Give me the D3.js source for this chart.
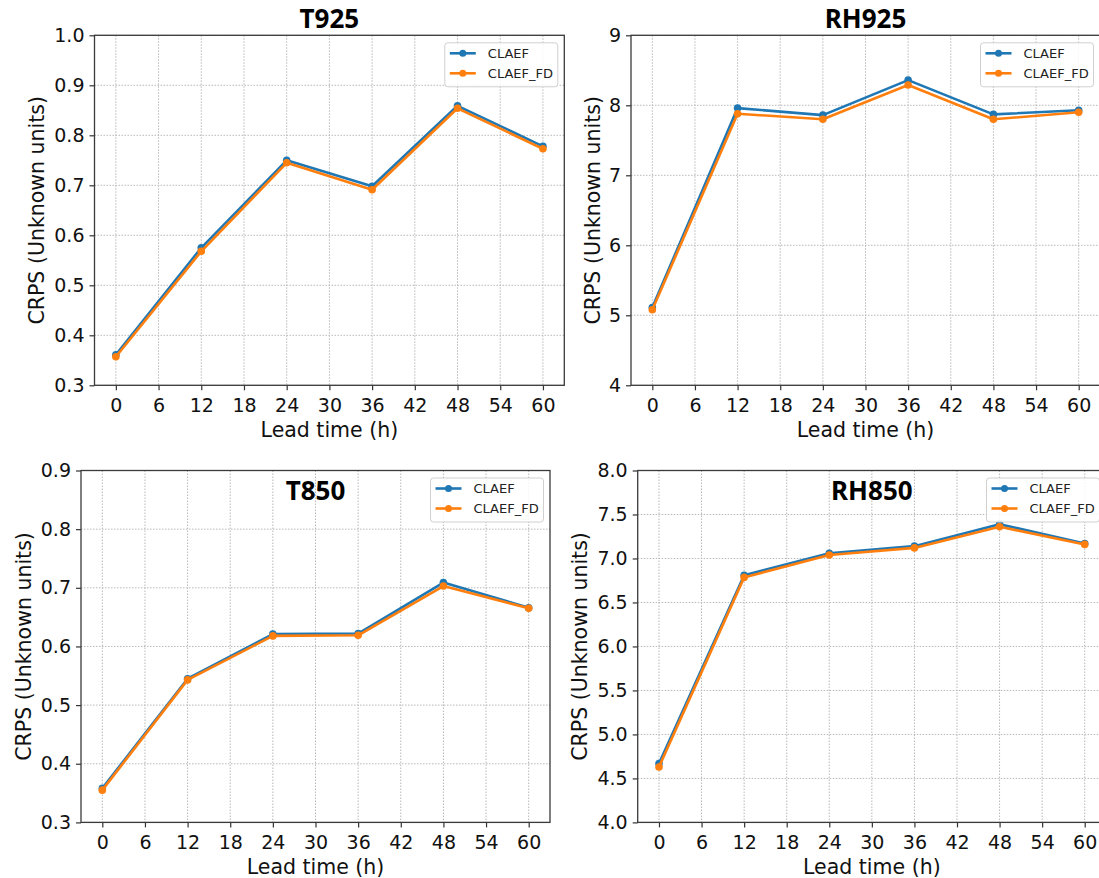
<!DOCTYPE html>
<html>
<head>
<meta charset="utf-8">
<script src="https://cdn.jsdelivr.net/npm/d3@7"></script>
<style>
  body { margin: 0; background: #fff; }
  svg { display: block; }
</style>
</head>
<body>
<svg id="chart"></svg>
<script>
// CRPS vs lead time, four panels

const leadTimes = [0, 12, 24, 36, 48, 60];
const xTicks = [0, 6, 12, 18, 24, 30, 36, 42, 48, 54, 60];
const seriesNames = ["CLAEF", "CLAEF_FD"];
const seriesColors = ["#1f77b4", "#ff7f0e"];

const t925Claef = [0.361, 0.575, 0.750, 0.698, 0.859, 0.778];
const t925ClaefFd = [0.357, 0.568, 0.745, 0.691, 0.854, 0.773];
const t925Ticks = [0.3, 0.4, 0.5, 0.6, 0.7, 0.8, 0.9, 1.0];

const rh925Claef = [5.11, 7.96, 7.86, 8.36, 7.87, 7.93];
const rh925ClaefFd = [5.08, 7.88, 7.80, 8.29, 7.80, 7.90];
const rh925Ticks = [4, 5, 6, 7, 8, 9];

const t850Claef = [0.358, 0.545, 0.621, 0.622, 0.709, 0.666];
const t850ClaefFd = [0.355, 0.543, 0.618, 0.619, 0.703, 0.665];
const t850Ticks = [0.3, 0.4, 0.5, 0.6, 0.7, 0.8, 0.9];

const rh850Claef = [4.67, 6.81, 7.06, 7.14, 7.39, 7.17];
const rh850ClaefFd = [4.63, 6.785, 7.04, 7.12, 7.36, 7.16];
const rh850Ticks = [4.0, 4.5, 5.0, 5.5, 6.0, 6.5, 7.0, 7.5, 8.0];

const width = 1099;
const height = 878;

const panels = [
    { title: "T925", series: [t925Claef, t925ClaefFd], ticks: t925Ticks, fmt: ".1f",
      left: 94.5, right: 564.3, top: 35.3, bottom: 385.3, titleInside: false, ylabelOff: 50.5 },
    { title: "RH925", series: [rh925Claef, rh925ClaefFd], ticks: rh925Ticks, fmt: "d",
      left: 631, right: 1100, top: 35.3, bottom: 385.3, titleInside: false, ylabelOff: 31.5 },
    { title: "T850", series: [t850Claef, t850ClaefFd], ticks: t850Ticks, fmt: ".1f",
      left: 81, right: 550, top: 470.5, bottom: 822.4, titleInside: true, ylabelOff: 50 },
    { title: "RH850", series: [rh850Claef, rh850ClaefFd], ticks: rh850Ticks, fmt: ".1f",
      left: 637.7, right: 1106, top: 470.5, bottom: 822.4, titleInside: true, ylabelOff: 51 }
];

const svg = d3.select("#chart")
    .attr("width", width)
    .attr("height", height);

svg.append("rect")
    .attr("width", width)
    .attr("height", height)
    .attr("fill", "#fff");

function drawPanel(p) {
    const w = p.right - p.left;
    const h = p.bottom - p.top;

    const g = svg.append("g")
        .attr("transform", "translate(" + p.left + "," + p.top + ")");

    const x = d3.scaleLinear().domain([-3, 63]).range([0, w]);
    const y = d3.scaleLinear()
        .domain([d3.min(p.ticks), d3.max(p.ticks)])
        .range([h, 0]);

    // dotted grid
    g.append("g").selectAll("line")
        .data(xTicks)
        .join("line")
        .attr("x1", d => x(d)).attr("x2", d => x(d))
        .attr("y1", 0).attr("y2", h)
        .attr("stroke", "#b8b8b8")
        .attr("stroke-width", 1)
        .attr("stroke-dasharray", "1.5,1.5");

    g.append("g").selectAll("line")
        .data(p.ticks)
        .join("line")
        .attr("x1", 0).attr("x2", w)
        .attr("y1", d => y(d)).attr("y2", d => y(d))
        .attr("stroke", "#b8b8b8")
        .attr("stroke-width", 1)
        .attr("stroke-dasharray", "1.5,1.5");

    // series
    const line = d3.line()
        .x((d, i) => x(leadTimes[i]))
        .y(d => y(d));

    p.series.forEach((vals, k) => {
        g.append("path")
            .datum(vals)
            .attr("d", line)
            .attr("fill", "none")
            .attr("stroke", seriesColors[k])
            .attr("stroke-width", 2.6)
            .attr("stroke-linejoin", "round");

        g.selectAll(".dot-" + k)
            .data(vals)
            .join("circle")
            .attr("class", "dot-" + k)
            .attr("cx", (d, i) => x(leadTimes[i]))
            .attr("cy", d => y(d))
            .attr("r", 3.8)
            .attr("fill", seriesColors[k]);
    });

    // axes
    const xAxis = d3.axisBottom(x)
        .tickValues(xTicks)
        .tickSize(5)
        .tickPadding(8)
        .tickFormat(d3.format("d"));

    const yAxis = d3.axisLeft(y)
        .tickValues(p.ticks)
        .tickSize(5)
        .tickPadding(5)
        .tickFormat(d3.format(p.fmt));

    const gx = g.append("g")
        .attr("transform", "translate(0," + h + ")")
        .call(xAxis);
    const gy = g.append("g").call(yAxis);

    [gx, gy].forEach(a => {
        a.select(".domain").remove();
        a.selectAll(".tick line").attr("stroke", "#333").attr("stroke-width", 1.2);
        a.selectAll(".tick text")
            .attr("fill", "#111")
            .style("font-family", "'DejaVu Sans', sans-serif")
            .style("font-size", "19px");
    });

    // frame
    g.append("rect")
        .attr("width", w)
        .attr("height", h)
        .attr("fill", "none")
        .attr("stroke", "#3a3a3a")
        .attr("stroke-width", 1.3);

    // labels
    g.append("text")
        .attr("x", w / 2)
        .attr("y", h + 51.7)
        .attr("text-anchor", "middle")
        .style("font-family", "'DejaVu Sans', sans-serif")
        .style("font-size", "20.5px")
        .attr("fill", "#111")
        .text("Lead time (h)");

    g.append("text")
        .attr("transform", "translate(" + (-p.ylabelOff) + "," + (h / 2) + ") rotate(-90)")
        .attr("text-anchor", "middle")
        .style("font-family", "'DejaVu Sans', sans-serif")
        .style("font-size", "20.5px")
        .attr("fill", "#111")
        .text("CRPS (Unknown units)");

    g.append("text")
        .attr("x", w / 2)
        .attr("y", p.titleInside ? 29.8 : -7.3)
        .attr("text-anchor", "middle")
        .style("font-family", "'Noto Sans', sans-serif")
        .style("font-weight", "bold")
        .style("font-size", "26px")
        .attr("fill", "#000")
        .text(p.title);

    // legend
    const lw = 113, lh = 44;
    const legend = g.append("g")
        .attr("transform", "translate(" + (w - 6.5 - lw) + ",7.5)");

    legend.append("rect")
        .attr("width", lw)
        .attr("height", lh)
        .attr("rx", 3)
        .attr("fill", "#fff")
        .attr("fill-opacity", 0.85)
        .attr("stroke", "#d0d0d0")
        .attr("stroke-width", 1);

    seriesNames.forEach((name, k) => {
        const ry = 10.5 + k * 20;
        legend.append("line")
            .attr("x1", 5).attr("x2", 31)
            .attr("y1", ry).attr("y2", ry)
            .attr("stroke", seriesColors[k])
            .attr("stroke-width", 2.6);
        legend.append("circle")
            .attr("cx", 18).attr("cy", ry)
            .attr("r", 3.5)
            .attr("fill", seriesColors[k]);
        legend.append("text")
            .attr("x", 43)
            .attr("y", ry)
            .attr("dy", "0.36em")
            .style("font-family", "'DejaVu Sans', sans-serif")
            .style("font-size", "13px")
            .attr("fill", "#222")
            .text(name);
    });
}

panels.forEach(drawPanel);
</script>
</body>
</html>
